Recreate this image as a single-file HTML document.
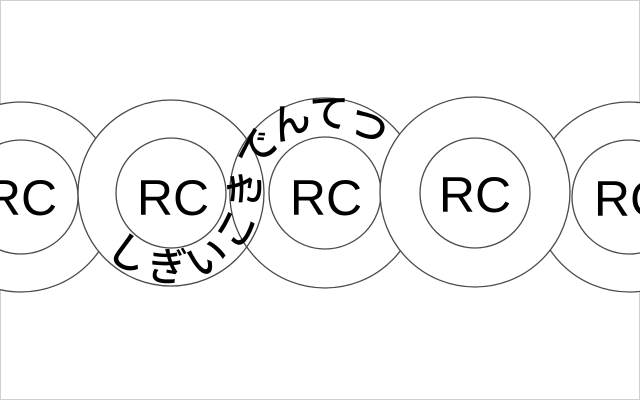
<!DOCTYPE html>
<html><head><meta charset="utf-8"><style>
html,body{margin:0;padding:0;background:#fff;}
svg{display:block;}
</style></head><body>
<svg width="640" height="400" viewBox="0 0 640 400" xmlns="http://www.w3.org/2000/svg">
<rect x="0.5" y="0.5" width="639" height="399" fill="#fff" stroke="#cfcfcf"/>
<g stroke="#4a4a4a" stroke-width="1.3" fill="#fff">
  <circle cx="21" cy="197" r="95"/><circle cx="21" cy="197" r="57"/>
  <circle cx="629" cy="197" r="95"/><circle cx="629" cy="197" r="57"/>
  <circle cx="325" cy="193" r="95"/><circle cx="325" cy="193" r="56"/>
  <circle cx="171" cy="193" r="93"/><circle cx="171" cy="193" r="55"/>
  <circle cx="475" cy="192" r="95"/><circle cx="475" cy="193" r="55"/>
  <path d="M 247 138.5 A 95 95 0 0 0 247 247.5" fill="none"/>
</g>
<g font-family="Liberation Sans, sans-serif" font-size="50" fill="#000" text-anchor="middle">
  <text x="21" y="215">RC</text>
  <text x="173" y="215">RC</text>
  <text x="326" y="215">RC</text>
  <text x="475" y="212">RC</text>
  <text x="630" y="216">RC</text>
</g>
<path id="p" d="M 113.5 241.2 A 75 75 0 0 0 246 193 A 79 79 0 0 1 391.3 150" fill="none"/>
<text font-family="Liberation Sans, Noto Sans CJK JP, sans-serif" font-size="40" font-weight="500" fill="#000" dominant-baseline="central"><textPath href="#p" textLength="372" lengthAdjust="spacing">しぎいこきでんてつ</textPath></text>
</svg>
</body></html>
